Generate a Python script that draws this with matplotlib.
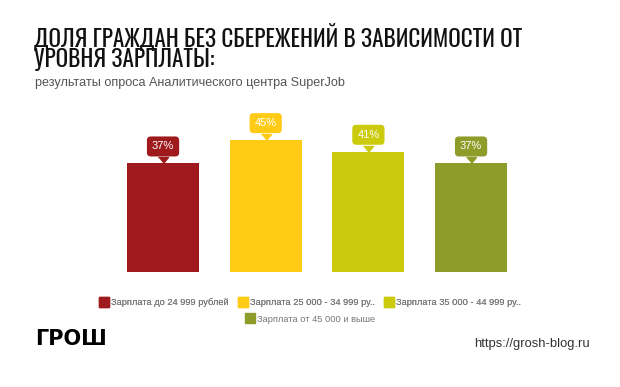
import matplotlib.pyplot as plt
import matplotlib.transforms as mtransforms
from matplotlib.lines import Line2D

# data
categories = ['Зарплата до 24 999 рублей', 'Зарплата 25 000 - 34 999 ру..',
              'Зарплата 35 000 - 44 999 ру..', 'Зарплата от 45 000 и выше']
shares = [37, 45, 41, 37]
colors = ['#9E1A1C', '#FFCB14', '#CCCA0C', '#8E9D2A']

title_lines = ['ДОЛЯ ГРАЖДАН БЕЗ СБЕРЕЖЕНИЙ В ЗАВИСИМОСТИ ОТ', 'УРОВНЯ ЗАРПЛАТЫ:']
subtitle = 'результаты опроса Аналитического центра SuperJob'

W, H = 620, 387
fig = plt.figure(figsize=(W / 100, H / 100), dpi=100)
plt.rcParams['font.family'] = ['Liberation Sans', 'DejaVu Sans']

# axes placed in pixel terms
ax = fig.add_axes([111.7 / W, (H - 271.5) / H, 410.7 / W, 146 / H])
x = list(range(len(shares)))
ax.bar(x, shares, width=0.7, color=colors)
ax.set_xlim(-0.5, 3.5)
ax.set_ylim(0, 50)
ax.axis('off')

# callout labels above bars
tri = [(-5, 3), (5, 3), (0, -3)]
tri_tr = mtransforms.offset_copy(ax.transData, fig=fig, x=0, y=3, units='dots')
for xi, v, c in zip(x, shares, colors):
    ax.annotate(f'{v}%', xy=(xi, v), xytext=(0, 17), textcoords='offset pixels',
                ha='center', va='center', fontsize=8, color='white',
                bbox=dict(boxstyle='round,pad=0.45,rounding_size=0.35', fc=c, ec='none'))
    ax.plot([xi], [v], marker=tri, ms=7.2, color=c, transform=tri_tr, clip_on=False)

# titles (two lines, baselines at 47 and 67 px)
for line, base in zip(title_lines, [47, 67]):
    fig.text(34 / W, 1 - base / H, line, fontsize=16.7, family=['Oswald', 'Liberation Sans'],
             va='baseline', ha='left', color='#111111')
fig.text(35 / W, 1 - 86 / H, subtitle, fontsize=9.1, color='#555555', ha='left', va='baseline')

# legend in two centered rows
def handle(c):
    return Line2D([], [], marker='s', ls='none', ms=6.5, mfc=c, mec=c)

leg1 = fig.legend([handle(c) for c in colors[:3]], categories[:3], ncol=3,
                  loc='center', bbox_to_anchor=(0.5, 1 - 302.5 / H),
                  frameon=False, fontsize=6.7, labelcolor='#777777', handletextpad=0.2,
                  columnspacing=1.0, handlelength=1.1)
leg2 = fig.legend([handle(colors[3])], categories[3:], loc='center',
                  bbox_to_anchor=(0.5, 1 - 319 / H), frameon=False, fontsize=6.7,
                  labelcolor='#777777', handletextpad=0.2, handlelength=1.1)
fig.add_artist(leg1)

# footer
fig.text(35 / W, 1 - 345 / H, 'ГРОШ', fontsize=15, fontweight='bold',
         family='DejaVu Sans', color='black', ha='left', va='baseline')
fig.text(590 / W, 1 - 347 / H, 'https://grosh-blog.ru', fontsize=9.4, color='#333333',
         ha='right', va='baseline')

fig.savefig('out.png', dpi=100)
